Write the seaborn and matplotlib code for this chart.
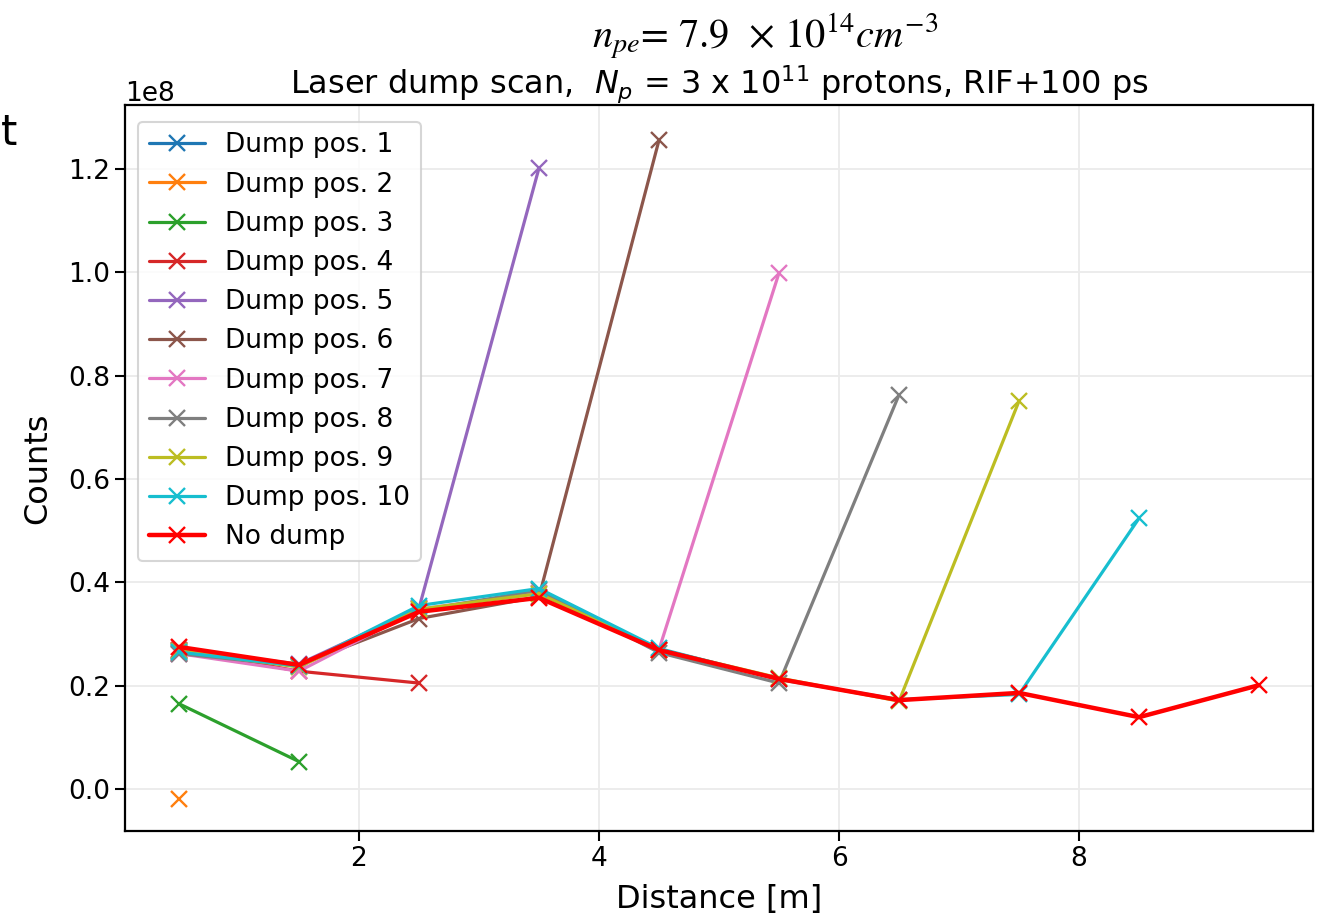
import numpy as np
import pandas as pd
import matplotlib
matplotlib.use("Agg")
import matplotlib.pyplot as plt
import seaborn as sns

# Measurement positions along the cell [m]
distance = [0.5, 1.5, 2.5, 3.5, 4.5, 5.5, 6.5, 7.5, 8.5, 9.5]

# Counts (in units of 1e8) for each laser dump position
dump_pos_1 = []
dump_pos_2 = [-0.019]
dump_pos_3 = [0.165, 0.053]
dump_pos_4 = [0.270, 0.228, 0.205]
dump_pos_5 = [0.268, 0.242, 0.350, 1.202]
dump_pos_6 = [0.263, 0.240, 0.330, 0.372, 1.256]
dump_pos_7 = [0.262, 0.228, 0.348, 0.380, 0.270, 0.999]
dump_pos_8 = [0.262, 0.238, 0.345, 0.385, 0.264, 0.205, 0.763]
dump_pos_9 = [0.268, 0.236, 0.348, 0.378, 0.270, 0.215, 0.170, 0.751]
dump_pos_10 = [0.265, 0.238, 0.355, 0.388, 0.272, 0.212, 0.173, 0.183, 0.524]
no_dump = [0.275, 0.240, 0.343, 0.370, 0.269, 0.213, 0.172, 0.186, 0.139, 0.201]

labels = [f"Dump pos. {i}" for i in range(1, 11)] + ["No dump"]
series = [dump_pos_1, dump_pos_2, dump_pos_3, dump_pos_4, dump_pos_5,
          dump_pos_6, dump_pos_7, dump_pos_8, dump_pos_9, dump_pos_10, no_dump]
colors = sns.color_palette("tab10", 10).as_hex() + ["#ff0000"]

sns.set_style("ticks")
plt.rcParams["font.family"] = ["DejaVu Sans"]
plt.rcParams["mathtext.fontset"] = "dejavusans"
for key in ("text.color", "axes.labelcolor", "xtick.color", "ytick.color"):
    plt.rcParams[key] = "black"

fig = plt.figure(figsize=(13.17, 9.17), dpi=100)
ax = fig.add_axes([0.0949, 0.0938, 0.9021, 0.7917])

for vals, lab, col in zip(series, labels, colors):
    lw = 3.2 if lab == "No dump" else 2.3
    if len(vals) == 0:
        ax.plot([], [], marker="x", color=col, lw=lw, ms=11, mew=1.7, label=lab)
        continue
    df = pd.DataFrame({"x": distance[:len(vals)],
                       "y": np.array(vals) * 1e8})
    sns.lineplot(data=df, x="x", y="y", ax=ax, color=col, lw=lw,
                 marker="x", markersize=11, markeredgewidth=1.7,
                 markeredgecolor=col, label=lab, legend=False)

ax.set_xlim(0.05, 9.95)
ax.set_ylim(-0.0813e8, 1.324e8)
ax.set_xticks([2, 4, 6, 8])
ax.set_yticks(np.arange(0, 1.21, 0.2) * 1e8)
ax.ticklabel_format(axis="y", style="sci", scilimits=(0, 0))
ax.yaxis.get_offset_text().set_fontsize(19)
ax.tick_params(labelsize=19, width=1.5, length=7, direction="out")
for s in ax.spines.values():
    s.set_linewidth(1.6)
    s.set_visible(True)
    s.set_color("black")
ax.grid(True, color="#ebebeb", lw=1.3)

ax.set_xlabel("Distance [m]", fontsize=23, labelpad=9)
ax.set_ylabel("Counts", fontsize=23, labelpad=11)
ax.set_title("Laser dump scan,  $N_p$ = 3 x 10$^{11}$ protons, RIF+100 ps",
             fontsize=23, pad=8)
fig.text(0.581, 0.961, r"$n_{pe}$= 7.9  $\times$ $10^{14}cm^{-3}$", fontsize=29,
         ha="center", va="center", family="STIXGeneral", math_fontfamily="stix")
fig.text(0.001, 0.855, "t", fontsize=30, ha="left", va="center")

leg = ax.legend(loc="upper left", fontsize=19, frameon=True, fancybox=True,
                handlelength=2.15, handletextpad=0.75, borderpad=0.4,
                labelspacing=0.5, bbox_to_anchor=(0.0, 0.995))
leg.get_frame().set_edgecolor("#cccccc")
leg.get_frame().set_linewidth(1.5)

fig.savefig("out.png", dpi=100)
